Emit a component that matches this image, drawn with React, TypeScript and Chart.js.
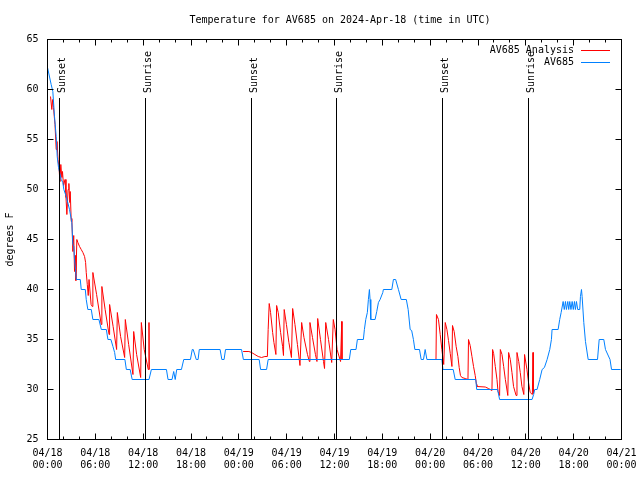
import { useEffect, useRef } from "react";
import { Chart, registerables } from "chart.js";

Chart.register(...registerables);

const TITLE = "Temperature for AV685 on 2024-Apr-18 (time in UTC)";
const Y_LABEL = "degrees F";
const SERIES_NAMES = ["AV685 Analysis", "AV685"];
const SERIES_COLORS = ["#ff0000", "#0080ff"];

// x axis: hours since 2024-04-18 00:00 UTC
const X_TICK_HOURS = [0, 6, 12, 18, 24, 30, 36, 42, 48, 54, 60, 66, 72];
const X_TICK_DATES = ["04/18", "04/18", "04/18", "04/18", "04/19", "04/19", "04/19", "04/19", "04/20", "04/20", "04/20", "04/20", "04/21"];
const X_TICK_TIMES = ["00:00", "06:00", "12:00", "18:00", "00:00", "06:00", "12:00", "18:00", "00:00", "06:00", "12:00", "18:00", "00:00"];
const Y_TICKS = [25, 30, 35, 40, 45, 50, 55, 60, 65];

const SUN_HOURS = [1.5, 12.29, 25.59, 36.25, 49.55, 60.34];
const SUN_LABELS = ["Sunset", "Sunrise", "Sunset", "Sunrise", "Sunset", "Sunrise"];

// AV685 observations
const obsHours = [
  0, 0.46, 0.67, 0.88, 1.09, 1.22, 1.38, 1.72, 1.92, 2.05, 2.35, 2.76, 3.05, 3.18, 3.3, 3.39, 3.52, 3.61,
  4.11, 4.23, 4.74, 4.86, 5.06, 5.49, 5.69, 6.45, 6.75, 7.38, 7.58, 7.95, 8.21, 8.42, 8.55, 9.71, 9.89,
  10.37, 10.62, 12.73, 13.03, 14.92, 15.12, 15.62, 15.83, 16.02, 16.21, 16.8, 17.09, 17.93, 18.16, 18.28,
  18.66, 18.89, 19.04, 21.65, 21.87, 22.15, 22.33, 24.34, 24.57, 26.55, 26.73, 27.48, 27.68, 37.86, 38.04,
  38.7, 38.87, 39.62, 39.75, 39.92, 40.12, 40.25, 40.38, 40.46, 40.55, 41.09, 41.3, 41.51, 41.72, 42.06,
  42.13, 43.19, 43.39, 43.67, 44.02, 44.36, 45.01, 45.24, 45.49, 45.68, 45.9, 46.08, 46.66, 46.87, 47.16,
  47.37, 47.59, 49.47, 49.6, 50.89, 51.14, 53.72, 53.84, 56.46, 56.71, 60.78, 60.98, 61.11, 61.41, 61.74,
  62.04, 62.33, 62.67, 63.0, 63.21, 63.29, 64.05, 64.25, 64.43, 64.68, 64.82, 64.97, 65.09, 65.26, 65.38,
  65.51, 65.66, 65.81, 65.95, 66.1, 66.22, 66.35, 66.51, 66.76, 66.85, 66.98, 67.06, 67.27, 67.48, 67.82,
  68.99, 69.2, 69.78, 69.99, 70.56, 70.75, 71.88,
];
const obsTemps = [
  62.2, 60.5, 59.8, 57.3, 55.3, 53.3, 52.2, 51.0, 50.7, 50.0, 49.3, 48.0, 46.7, 44.5, 44.3, 43.0, 42.0, 41.0,
  41.0, 40.0, 40.0, 39.0, 38.0, 38.0, 37.0, 37.0, 36.0, 36.0, 35.0, 35.0, 34.3, 33.7, 33.0, 33.0, 32.0,
  32.0, 31.0, 31.0, 32.0, 32.0, 31.0, 31.0, 31.8, 31.0, 32.0, 32.0, 33.0, 33.0, 34.0, 34.0,
  33.0, 33.0, 34.0, 34.0, 33.0, 33.0, 34.0, 34.0, 33.0, 33.0, 32.0, 32.0, 33.0, 33.0, 34.0,
  34.0, 35.0, 35.0, 36.0, 37.0, 37.7, 39.0, 40.0, 39.0, 37.0, 37.0, 37.8, 38.7, 39.0, 39.7,
  40.0, 40.0, 41.0, 41.0, 40.0, 39.0, 39.0, 38.0, 36.0, 35.9, 35.0, 34.0, 34.0, 33.0, 33.0,
  34.0, 33.0, 33.0, 32.0, 32.0, 31.0, 31.0, 30.0, 30.0, 29.0, 29.0, 29.5, 30.0, 30.0, 31.0,
  32.0, 32.2, 33.0, 34.0, 35.0, 36.0, 36.0, 37.0, 37.7, 38.8, 38.0, 38.8, 38.0, 38.8, 38.0,
  38.8, 38.0, 38.8, 38.0, 38.8, 38.0, 38.8, 38.0, 38.0, 39.3, 40.0, 39.3, 36.7, 34.8, 33.0,
  33.0, 35.0, 35.0, 34.0, 33.0, 32.0, 32.0,
];

// AV685 Analysis (null = no analysis)
const anaHours = [
  0.38, 0.54, 0.65, 0.75, 0.94, 1.09, 1.19, 1.32, 1.45, 1.55, 1.67, 1.8, 1.88, 2.01, 2.2, 2.32, 2.43, 2.58,
  2.68, 2.79, 2.85, 2.98, 3.05, 3.18, 3.29, 3.39, 3.48, 3.56, 3.68, 3.81, 4.02, 4.23, 4.44, 4.65, 4.78, 4.86,
  4.99, 5.11, 5.21, 5.47, 5.62, 5.69, 6.16, 6.74, 6.82, 7.23, 7.72, 7.79, 8.23, 8.67, 8.76, 9.17, 9.68, 9.76,
  10.18, 10.72, 10.81, 11.18, 11.69, 11.77, 12.13, 12.64, 12.73, 12.77, 13.0,
  24.54, 25.26, 25.6, 26.01, 26.43, 26.85, 27.27, 27.58, 27.68, 27.81, 27.98, 28.24, 28.4, 28.65, 28.74,
  28.94, 29.24, 29.49, 29.6, 29.69, 29.97, 30.28, 30.6, 30.75, 31.04, 31.35, 31.67, 31.88, 32.17, 32.61,
  32.85, 32.92, 33.24, 33.61, 33.8, 33.89, 34.24, 34.62, 34.75, 34.9, 35.25, 35.65, 35.85, 36.07, 36.32,
  36.76, 36.91, 36.94, 37.5,
  48.73, 48.79, 49.04, 49.26, 49.47, 49.7, 49.89, 50.1, 50.3, 50.52, 50.73, 50.8, 51.01, 51.26, 51.48,
  51.64, 51.8, 51.98, 52.39, 52.74, 52.81, 53.02, 53.24, 53.44, 53.65, 53.81, 53.86, 54.91, 55.32, 55.75,
  55.83, 55.96, 56.17, 56.38, 56.51, 56.71, 56.8, 57.01, 57.22, 57.43, 57.74, 57.84, 58.05, 58.26, 58.46,
  58.78, 58.89, 59.11, 59.3, 59.51, 59.75, 59.84, 60.14, 60.34, 60.55, 60.82, 60.9, 60.94,
];
const anaTemps = [
  59.3, 58.0, 59.0, 58.2, 56.5, 54.0, 54.8, 53.0, 52.2, 50.8, 52.5, 51.2, 51.8, 50.4, 51.0, 49.2, 47.5, 50.0,
  50.6, 48.7, 49.8, 46.8, 47.1, 43.8, 45.4, 41.8, 43.4, 40.9, 45.0, 44.7, 44.3, 44.0, 43.7, 43.3, 42.7, 41.7,
  40.5, 39.4, 41.0, 38.5, 38.3, 41.7, 39.5, 36.5, 40.3, 38.0, 35.5, 38.5, 36.3, 34.0, 37.7, 35.3, 33.2, 37.0,
  34.5, 31.5, 35.8, 33.5, 31.2, 36.7, 34.0, 32.0, 36.7, 32.0, null,
  33.8, 33.8, 33.7, 33.5, 33.3, 33.2, 33.3, 33.3, 36.0, 38.6, 37.7, 35.7, 34.7, 33.5, 38.4,
  37.7, 35.7, 34.3, 33.4, 38.0, 36.5, 34.7, 33.2, 38.1, 36.5, 34.5, 32.4, 36.7, 35.2, 33.5,
  32.8, 36.7, 35.2, 33.5, 32.8, 37.1, 35.0, 32.8, 32.1, 36.7, 35.0, 32.7, 37.0, 36.0, 34.0,
  32.8, 36.8, 33.0, null,
  33.0, 37.5, 37.0, 35.5, 34.0, 32.5, 36.7, 36.0, 34.9, 33.6, 32.3, 36.4, 35.8, 34.3, 33.3,
  32.2, 31.4, 31.2, 31.1, 31.0, 35.0, 34.4, 33.3, 32.3, 31.4, 30.5, 30.3, 30.25, 30.1, 29.9,
  34.0, 33.6, 32.3, 31.0, 29.8, 29.4, 34.0, 33.5, 32.3, 31.0, 29.4, 33.7, 33.0, 31.7, 30.3,
  29.4, 33.7, 32.8, 31.7, 30.3, 29.5, 33.5, 32.0, 30.7, 29.7, 29.5, 33.7, 29.6,
];

const FONT = "DejaVu Sans Mono";

const crisp = (v: number) => Math.round(v - 0.5) + 0.5;

const decorPlugin = {
  id: "decor",
  afterDraw(chart: any) {
    const { ctx, chartArea } = chart;
    const xs = chart.scales.x;
    const ys = chart.scales.y;
    const { left, right, top, bottom } = chartArea;
    ctx.save();
    ctx.strokeStyle = "#000";
    ctx.lineWidth = 1;
    // border
    ctx.strokeRect(left, top, right - left, bottom - top);
    // y ticks (inward, both sides)
    ctx.beginPath();
    for (const v of Y_TICKS) {
      const y = crisp(ys.getPixelForValue(v));
      ctx.moveTo(left, y);
      ctx.lineTo(left + 6, y);
      ctx.moveTo(right, y);
      ctx.lineTo(right - 6, y);
    }
    // x ticks every 2 hours, major every 6
    for (let h = 0; h <= 72; h += 2) {
      const x = crisp(xs.getPixelForValue(h));
      const len = h % 6 === 0 ? 6 : 3;
      ctx.moveTo(x, bottom);
      ctx.lineTo(x, bottom - len);
      ctx.moveTo(x, top);
      ctx.lineTo(x, top + len);
    }
    ctx.stroke();
    // sunrise / sunset lines
    ctx.font = `10px "${FONT}"`;
    ctx.fillStyle = "#000";
    SUN_HOURS.forEach((h, i) => {
      const x = crisp(xs.getPixelForValue(h));
      ctx.beginPath();
      ctx.moveTo(x, bottom);
      ctx.lineTo(x, 98);
      ctx.stroke();
      ctx.save();
      ctx.translate(x + 5, 93);
      ctx.rotate(-Math.PI / 2);
      ctx.textAlign = "left";
      ctx.textBaseline = "alphabetic";
      ctx.fillText(SUN_LABELS[i], 0, 0);
      ctx.restore();
    });
    // title
    ctx.textAlign = "center";
    ctx.textBaseline = "middle";
    ctx.fillText(TITLE, 340, 20);
    // legend
    chart.data.datasets.forEach((ds: any, i: number) => {
      const y = 50 + i * 12;
      ctx.textAlign = "right";
      ctx.fillStyle = "#000";
      ctx.fillText(ds.label, 574, y);
      ctx.strokeStyle = ds.borderColor;
      ctx.beginPath();
      ctx.moveTo(581, crisp(y));
      ctx.lineTo(610, crisp(y));
      ctx.stroke();
    });
    ctx.restore();
  },
};

export default function App() {
  const ref = useRef<HTMLCanvasElement | null>(null);
  useEffect(() => {
    document.body.style.margin = "0";
    const canvas = ref.current;
    if (!canvas) return;
    const ana = anaHours.map((h, i) => ({ x: h, y: anaTemps[i] }));
    const obs = obsHours.map((h, i) => ({ x: h, y: obsTemps[i] }));
    const chart = new Chart(canvas, {
      type: "line",
      data: {
        datasets: [
          {
            label: SERIES_NAMES[0],
            data: ana as any,
            borderColor: SERIES_COLORS[0],
            borderWidth: 1,
            pointRadius: 0,
            spanGaps: false,
            order: 2,
          },
          {
            label: SERIES_NAMES[1],
            data: obs as any,
            borderColor: SERIES_COLORS[1],
            borderWidth: 1,
            pointRadius: 0,
            order: 1,
          },
        ],
      },
      options: {
        animation: false,
        responsive: false,
        devicePixelRatio: 1,
        parsing: false,
        normalized: true,
        layout: { padding: { top: 39.5, right: 18.5, left: 0, bottom: 0 } },
        plugins: {
          legend: { display: false },
          title: { display: false },
          tooltip: { enabled: false },
        },
        elements: { line: { tension: 0 }, point: { radius: 0 } },
        scales: {
          x: {
            type: "linear",
            min: 0,
            max: 72,
            afterFit: (s: any) => {
              s.height = 40.5;
              s.paddingLeft = 0;
              s.paddingRight = 0;
              s.paddingTop = 0;
              s.paddingBottom = 0;
            },
            afterBuildTicks: (s: any) => {
              s.ticks = X_TICK_HOURS.map((v) => ({ value: v }));
            },
            ticks: {
              autoSkip: false,
              maxRotation: 0,
              minRotation: 0,
              padding: 8,
              color: "#000",
              font: { family: FONT, size: 10 },
              callback: (v: any) => {
                const i = X_TICK_HOURS.indexOf(Number(v));
                return i >= 0 ? [X_TICK_DATES[i], X_TICK_TIMES[i]] : "";
              },
            },
            grid: { display: false, drawTicks: false },
            border: { display: false },
          },
          y: {
            type: "linear",
            min: 25,
            max: 65,
            afterFit: (s: any) => {
              s.width = 47.5;
              s.paddingLeft = 0;
              s.paddingRight = 0;
              s.paddingTop = 0;
              s.paddingBottom = 0;
            },
            afterBuildTicks: (s: any) => {
              s.ticks = Y_TICKS.map((v) => ({ value: v }));
            },
            ticks: {
              padding: 9,
              color: "#000",
              font: { family: FONT, size: 10 },
            },
            title: {
              display: true,
              text: Y_LABEL,
              color: "#000",
              font: { family: FONT, size: 10 },
              padding: { top: 4, bottom: 4 },
            },
            grid: { display: false, drawTicks: false },
            border: { display: false },
          },
        },
      },
      plugins: [decorPlugin],
    });
    return () => chart.destroy();
  }, []);
  return (
    <div style={{ width: 640, height: 480, overflow: "hidden", background: "#fff" }}>
      <canvas ref={ref} width={640} height={480} style={{ display: "block" }} />
    </div>
  );
}
